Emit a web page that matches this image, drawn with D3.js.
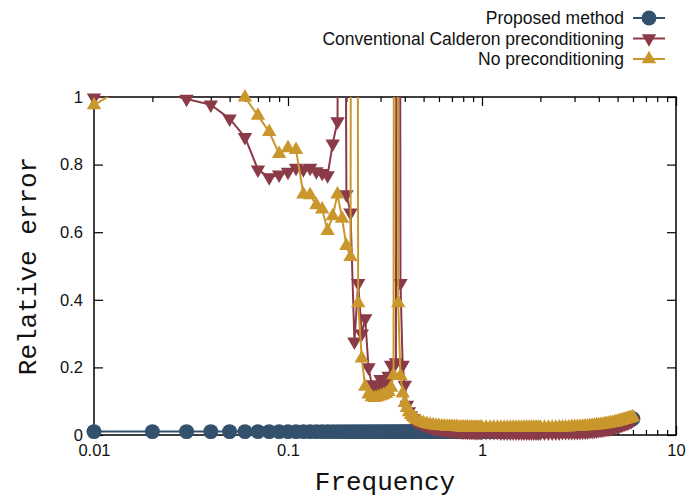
<!DOCTYPE html>
<html>
<head>
<meta charset="utf-8">
<script src="https://cdn.jsdelivr.net/npm/d3@7"></script>
<style>
  body { margin: 0; background: #fff; }
  text { font-family: "Liberation Sans", Arial, Helvetica, sans-serif; }
  .title { font-family: "Courier New", "Liberation Mono", monospace; }
</style>
</head>
<body>
<svg id="chart" width="690" height="501"></svg>
<script>
// frequency grid: 0.01..0.45 (step 0.01), 0.46..1.00 (0.02), 1.05..2.0 (0.05), 2.1..6.0 (0.1)
const freq = [
  0.01, 0.02, 0.03, 0.04, 0.05, 0.06, 0.07, 0.08, 0.09, 0.10,
  0.11, 0.12, 0.13, 0.14, 0.15, 0.16, 0.17, 0.18, 0.19, 0.20,
  0.21, 0.22, 0.23, 0.24, 0.25, 0.26, 0.27, 0.28, 0.29, 0.30,
  0.31, 0.32, 0.33, 0.34, 0.35, 0.36, 0.37, 0.38, 0.39, 0.40,
  0.41, 0.42, 0.43, 0.44, 0.45,
  0.46, 0.48, 0.50, 0.52, 0.54, 0.56, 0.58, 0.60, 0.62, 0.64,
  0.66, 0.68, 0.70, 0.72, 0.74, 0.76, 0.78, 0.80, 0.82, 0.84,
  0.86, 0.88, 0.90, 0.92, 0.94, 0.96, 0.98, 1.00,
  1.05, 1.10, 1.15, 1.20, 1.25, 1.30, 1.35, 1.40, 1.45, 1.50,
  1.55, 1.60, 1.65, 1.70, 1.75, 1.80, 1.85, 1.90, 1.95, 2.00,
  2.1, 2.2, 2.3, 2.4, 2.5, 2.6, 2.7, 2.8, 2.9, 3.0,
  3.1, 3.2, 3.3, 3.4, 3.5, 3.6, 3.7, 3.8, 3.9, 4.0,
  4.1, 4.2, 4.3, 4.4, 4.5, 4.6, 4.7, 4.8, 4.9, 5.0,
  5.1, 5.2, 5.3, 5.4, 5.5, 5.6, 5.7, 5.8, 5.9, 6.0,
];

const proposed = [
  0.010, 0.010, 0.010, 0.010, 0.010, 0.010, 0.010, 0.010, 0.010, 0.010,
  0.010, 0.010, 0.010, 0.010, 0.010, 0.010, 0.010, 0.010, 0.010, 0.010,
  0.010, 0.010, 0.010, 0.010, 0.010, 0.010, 0.010, 0.010, 0.010, 0.010,
  0.010, 0.010, 0.010, 0.010, 0.010, 0.010, 0.010, 0.010, 0.010, 0.010,
  0.010, 0.010, 0.010, 0.010, 0.010,
  0.010, 0.010, 0.010, 0.010, 0.010, 0.010, 0.010, 0.010, 0.010, 0.010,
  0.010, 0.010, 0.010, 0.010, 0.010, 0.010, 0.010, 0.010, 0.010, 0.010,
  0.010, 0.010, 0.010, 0.010, 0.010, 0.010, 0.010, 0.010,
  0.010, 0.010, 0.010, 0.010, 0.010, 0.010, 0.010, 0.011, 0.011, 0.011,
  0.011, 0.011, 0.011, 0.011, 0.012, 0.012, 0.012, 0.012, 0.012, 0.012,
  0.012, 0.013, 0.013, 0.013, 0.014, 0.014, 0.014, 0.015, 0.015, 0.016,
  0.016, 0.017, 0.017, 0.018, 0.018, 0.019, 0.020, 0.020, 0.021, 0.022,
  0.023, 0.024, 0.025, 0.026, 0.027, 0.028, 0.029, 0.030, 0.031, 0.033,
  0.034, 0.035, 0.037, 0.038, 0.040, 0.041, 0.043, 0.044, 0.046, 0.048,
];

const calderon = [
  0.998, 1.020, 0.994, 0.977, 0.936, 0.881, 0.785, 0.762, 0.770, 0.778,
  0.790, 0.786, 0.790, 0.780, 0.775, 0.768, 0.862, 0.928, 4.000, 0.712,
  0.658, 0.276, 0.449, 0.300, 0.345, 0.200, 0.150, 0.130, 0.140, 0.165,
  0.145, 0.155, 0.175, 0.207, 0.205, 0.215, 6.000, 0.449, 0.207, 0.148,
  0.089, 0.070, 0.058, 0.050, 0.044,
  0.040, 0.034, 0.030, 0.026, 0.023, 0.021, 0.019, 0.017, 0.016, 0.015,
  0.014, 0.013, 0.012, 0.012, 0.011, 0.011, 0.010, 0.010, 0.010, 0.009,
  0.009, 0.009, 0.009, 0.008, 0.008, 0.008, 0.008, 0.008,
  0.008, 0.008, 0.008, 0.008, 0.007, 0.007, 0.007, 0.007, 0.007, 0.007,
  0.007, 0.007, 0.007, 0.007, 0.007, 0.007, 0.007, 0.007, 0.007, 0.007,
  0.007, 0.007, 0.007, 0.007, 0.007, 0.008, 0.008, 0.008, 0.008, 0.008,
  0.008, 0.009, 0.009, 0.010, 0.010, 0.011, 0.011, 0.012, 0.013, 0.014,
  0.015, 0.016, 0.017, 0.018, 0.019, 0.020, 0.022, 0.023, 0.025, 0.026,
  0.028, 0.029, 0.031, 0.033, 0.035, 0.036, 0.038, 0.040, 0.042, 0.045,
];

const noPrecond = [
  0.976, 1.080, 1.100, 1.080, 1.040, 0.999, 0.945, 0.897, 0.832, 0.849,
  0.844, 0.712, 0.710, 0.680, 0.668, 0.604, 0.648, 0.712, 0.640, 0.560,
  0.527, 8.000, 0.390, 0.227, 0.143, 0.120, 0.112, 0.110, 0.112, 0.115,
  0.118, 0.122, 0.128, 0.140, 0.177, 9.000, 0.390, 0.175, 0.123, 0.095,
  0.080, 0.068, 0.060, 0.054, 0.049,
  0.045, 0.040, 0.036, 0.033, 0.031, 0.029, 0.028, 0.027, 0.026, 0.026,
  0.025, 0.025, 0.024, 0.024, 0.024, 0.023, 0.023, 0.023, 0.023, 0.023,
  0.022, 0.022, 0.022, 0.022, 0.022, 0.022, 0.022, 0.022,
  0.022, 0.022, 0.022, 0.022, 0.022, 0.022, 0.022, 0.022, 0.022, 0.022,
  0.022, 0.022, 0.022, 0.022, 0.022, 0.022, 0.022, 0.022, 0.022, 0.022,
  0.022, 0.022, 0.022, 0.022, 0.023, 0.023, 0.023, 0.023, 0.024, 0.024,
  0.024, 0.025, 0.025, 0.026, 0.026, 0.027, 0.027, 0.028, 0.029, 0.029,
  0.030, 0.031, 0.032, 0.033, 0.034, 0.035, 0.036, 0.037, 0.038, 0.040,
  0.041, 0.042, 0.044, 0.045, 0.046, 0.048, 0.049, 0.050, 0.051, 0.053,
];

const seriesNames = ["Proposed method", "Conventional Calderon preconditioning", "No preconditioning"];
const xTicks = [0.01, 0.1, 1, 10];
const xTickLabels = ["0.01", "0.1", "1", "10"];
const yTicks = [0, 0.2, 0.4, 0.6, 0.8, 1];
const yTickLabels = ["0", "0.2", "0.4", "0.6", "0.8", "1"];

const styles = [
  { color: "#33506c", symbol: d3.symbolCircle, size: 175, rotate: 0 },
  { color: "#8b3a47", symbol: d3.symbolTriangle, size: 90, rotate: 180 },
  { color: "#c9972c", symbol: d3.symbolTriangle, size: 90, rotate: 0 },
];

const series = [proposed, calderon, noPrecond].map((vals, k) => ({
  name: seriesNames[k],
  style: styles[k],
  points: freq.map((f, i) => ({ f: f, v: vals[i] })),
}));

const svg = d3.select("#chart");
const x = d3.scaleLog().domain([0.01, 10]).range([94, 676]);
const y = d3.scaleLinear().domain([0, 1]).range([435, 97]);

svg.append("defs").append("clipPath").attr("id", "plot")
  .append("rect")
  .attr("x", x.range()[0]).attr("y", y.range()[1])
  .attr("width", x.range()[1] - x.range()[0])
  .attr("height", y.range()[0] - y.range()[1]);

// ticks (inward, mirrored like gnuplot)
const isMajor = (d) => Math.abs(Math.log10(d) - Math.round(Math.log10(d))) < 1e-6;
const minor = x.ticks().filter((d) => !isMajor(d));

const styleAxis = (g) => {
  g.select(".domain").remove();
  g.selectAll(".tick line").attr("stroke", "#000").attr("stroke-width", 1.2);
  g.selectAll(".tick text").attr("fill", "#111").style("font-size", "16.5px");
};

svg.append("g").attr("transform", `translate(0,${y(0)})`)
  .call(d3.axisBottom(x).tickValues(xTicks).tickFormat((d, i) => xTickLabels[i]).tickSize(-9).tickPadding(9))
  .call(styleAxis);
svg.append("g").attr("transform", `translate(0,${y(0)})`)
  .call(d3.axisBottom(x).tickValues(minor).tickFormat("").tickSize(-5))
  .call(styleAxis);
svg.append("g").attr("transform", `translate(0,${y(1)})`)
  .call(d3.axisTop(x).tickValues(xTicks).tickFormat("").tickSize(-9))
  .call(styleAxis);
svg.append("g").attr("transform", `translate(0,${y(1)})`)
  .call(d3.axisTop(x).tickValues(minor).tickFormat("").tickSize(-5))
  .call(styleAxis);
svg.append("g").attr("transform", `translate(${x(0.01)},0)`)
  .call(d3.axisLeft(y).tickValues(yTicks).tickFormat((d, i) => yTickLabels[i]).tickSize(-9).tickPadding(11))
  .call(styleAxis);
svg.append("g").attr("transform", `translate(${x(10)},0)`)
  .call(d3.axisRight(y).tickValues(yTicks).tickFormat("").tickSize(-9))
  .call(styleAxis);

svg.append("rect")
  .attr("x", x(0.01)).attr("y", y(1))
  .attr("width", x(10) - x(0.01)).attr("height", y(0) - y(1))
  .attr("fill", "none").attr("stroke", "#000").attr("stroke-width", 1.5);

// data
const line = d3.line().x((d) => x(d.f)).y((d) => y(d.v));

series.forEach((s) => {
  const g = svg.append("g");
  g.append("path")
    .datum(s.points)
    .attr("clip-path", "url(#plot)")
    .attr("fill", "none")
    .attr("stroke", s.style.color)
    .attr("stroke-width", 2)
    .attr("stroke-linejoin", "round")
    .attr("d", line);
  g.selectAll("path.pt")
    .data(s.points.filter((d) => d.v <= 1.0001))
    .enter()
    .append("path")
    .attr("class", "pt")
    .attr("fill", s.style.color)
    .attr("d", d3.symbol().type(s.style.symbol).size(s.style.size))
    .attr("transform", (d) => `translate(${x(d.f)},${y(d.v)}) rotate(${s.style.rotate})`);
});

// legend
const legend = svg.append("g").selectAll("g")
  .data(series)
  .enter()
  .append("g")
  .attr("transform", (d, i) => `translate(0,${18 + 20.5 * i})`);
legend.append("text")
  .attr("x", 624).attr("y", 0).attr("dy", "0.36em")
  .attr("text-anchor", "end")
  .style("font-size", "17.5px")
  .attr("fill", "#111")
  .text((d) => d.name);
legend.append("line")
  .attr("x1", 633).attr("x2", 665)
  .attr("stroke", (d) => d.style.color).attr("stroke-width", 2);
legend.append("path")
  .attr("fill", (d) => d.style.color)
  .attr("d", (d) => d3.symbol().type(d.style.symbol).size(d.style.size)())
  .attr("transform", (d) => `translate(649,0) rotate(${d.style.rotate})`);

// axis titles
svg.append("text").attr("class", "title")
  .attr("x", (x(0.01) + x(10)) / 2).attr("y", 490)
  .attr("text-anchor", "middle")
  .style("font-size", "26px")
  .attr("fill", "#111")
  .text("Frequency");
svg.append("text").attr("class", "title")
  .attr("transform", `translate(36,${(y(0) + y(1)) / 2}) rotate(-90)`)
  .attr("text-anchor", "middle")
  .style("font-size", "26px")
  .attr("fill", "#111")
  .text("Relative error");
</script>
</body>
</html>
